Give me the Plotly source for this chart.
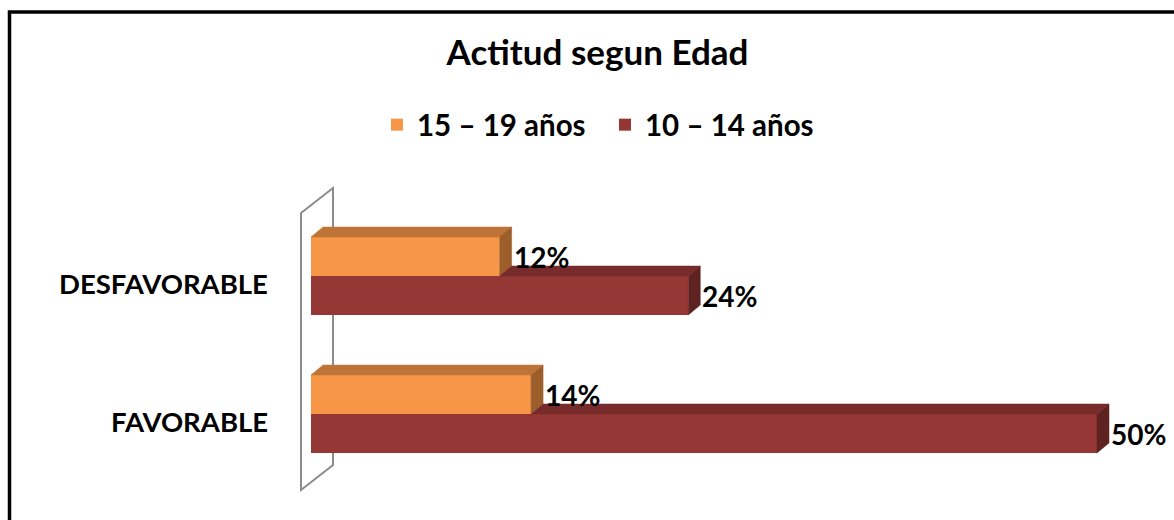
import plotly.graph_objects as go

# ---------------- data ----------------
categories = ["DESFAVORABLE", "FAVORABLE"]
series_names = ["15 – 19 años", "10 – 14 años"]
values_15_19 = [12, 14]
values_10_14 = [24, 50]
title_text = "Actitud segun Edad"

# ---------------- styling / geometry ----------------
W, H = 1174, 520
FONT = "Lato"
X0_PX = 311          # pixel of the 0 % baseline
PX_PER_PCT = 15.72   # pixels per percent
CAT_TOP_PX = 276     # pixel centre of the first category
CAT_STEP_PX = 138    # pixels between categories
BAR_PX = 39          # bar thickness
DEPTH_X_PX = 12      # 3-D depth offset
DEPTH_Y_PX = 10

ORANGE = dict(front="#F79646", top="#BE7436", side="#9C5E2A")
DARKRED = dict(front="#953735", top="#772B2A", side="#5E2220")

n = len(categories)
pos = [n - 1 - i for i in range(n)]
x_range = [-X0_PX / PX_PER_PCT, (W - X0_PX) / PX_PER_PCT]
y_range = [(n - 1) - (H - CAT_TOP_PX) / CAT_STEP_PX, (n - 1) + CAT_TOP_PX / CAT_STEP_PX]
bw = BAR_PX / CAT_STEP_PX
dx = DEPTH_X_PX / PX_PER_PCT
dy = DEPTH_Y_PX / CAT_STEP_PX


def face(xs, ys, color):
    return go.Scatter(
        x=xs + [xs[0]], y=ys + [ys[0]], fill="toself", fillcolor=color,
        mode="lines", line=dict(width=0.5, color=color),
        hoverinfo="skip", showlegend=False,
    )


fig = go.Figure()

# front faces (real bars)
fig.add_trace(go.Bar(
    name=series_names[0], y=pos, x=values_15_19, orientation="h",
    width=bw, offset=0, marker=dict(color=ORANGE["front"], line=dict(width=0)),
))
fig.add_trace(go.Bar(
    name=series_names[1], y=pos, x=values_10_14, orientation="h",
    width=bw, offset=-bw, marker=dict(color=DARKRED["front"], line=dict(width=0)),
))

annotations = []
for i, c in enumerate(pos):
    v1 = values_15_19[i]
    v2 = values_10_14[i]
    # orange (upper) bar faces
    t, b = c + bw, c
    fig.add_trace(face([0, v1, v1 + dx, dx], [t, t, t + dy, t + dy], ORANGE["top"]))
    fig.add_trace(face([v1, v1 + dx, v1 + dx, v1], [b, b + dy, t + dy, t], ORANGE["side"]))
    # dark red (lower) bar faces, top face visible only beyond the orange bar
    t2, b2 = c, c - bw
    s = min(v1, v2)
    fig.add_trace(face([s, v2, v2 + dx, s + dx], [t2, t2, t2 + dy, t2 + dy], DARKRED["top"]))
    fig.add_trace(face([v2, v2 + dx, v2 + dx, v2], [b2, b2 + dy, t2 + dy, t2], DARKRED["side"]))

    for v, yc in ((v1, c + bw / 2), (v2, c - bw / 2)):
        annotations.append(dict(
            x=v, y=yc, xref="x", yref="y", text=f"{v}%", showarrow=False,
            xanchor="left", yanchor="middle", xshift=DEPTH_X_PX,
            font=dict(family=FONT, size=28, color="black", weight="bold"),
        ))
    annotations.append(dict(
        x=0, y=c, xref="x", yref="y", text=categories[i], showarrow=False,
        xanchor="right", yanchor="middle", xshift=-41, yshift=-7,
        font=dict(family=FONT, size=27.5, color="black", weight="bold"),
    ))

# 3-D back wall outline (axis decoration)
wx0, wx1 = -10 / PX_PER_PCT, 22 / PX_PER_PCT
wy_top0 = (n - 1) + 63 / CAT_STEP_PX
wy_top1 = (n - 1) + 88 / CAT_STEP_PX
wy_bot1 = -51 / CAT_STEP_PX
wy_bot0 = -76 / CAT_STEP_PX
shapes = [
    dict(type="path", xref="x", yref="y", layer="below",
         path=f"M {wx0},{wy_top0} L {wx1},{wy_top1} L {wx1},{wy_bot1} L {wx0},{wy_bot0} Z",
         line=dict(color="#8C8C8C", width=2), fillcolor="rgba(0,0,0,0)"),
    # chart border
    dict(type="path", xref="paper", yref="paper",
         path=f"M {9.5 / W},-0.2 L {9.5 / W},{1 - 12 / H} L 1.2,{1 - 12 / H}",
         line=dict(color="black", width=3.5)),
]

fig.update_layout(
    width=W, height=H,
    margin=dict(l=0, r=0, t=0, b=0),
    paper_bgcolor="white", plot_bgcolor="white",
    barmode="overlay",
    showlegend=True,
    title=dict(text=title_text, x=597.5 / W, xanchor="center", y=1 - 53 / H, yanchor="middle",
               font=dict(family=FONT, size=35, color="black", weight="bold")),
    legend=dict(orientation="h", x=377 / W, xanchor="left", y=1 - 125 / H, yanchor="middle",
                traceorder="normal", bgcolor="rgba(0,0,0,0)", entrywidth=183,
                font=dict(family=FONT, size=29.5, color="black", weight="bold")),
    xaxis=dict(range=x_range, visible=False, fixedrange=True),
    yaxis=dict(range=y_range, visible=False, fixedrange=True),
    annotations=annotations,
    shapes=shapes,
)

fig.write_html(
    "out.html",
    config={"displayModeBar": False},
    post_script="document.body.style.margin='0px';document.body.style.overflow='hidden';",
)
